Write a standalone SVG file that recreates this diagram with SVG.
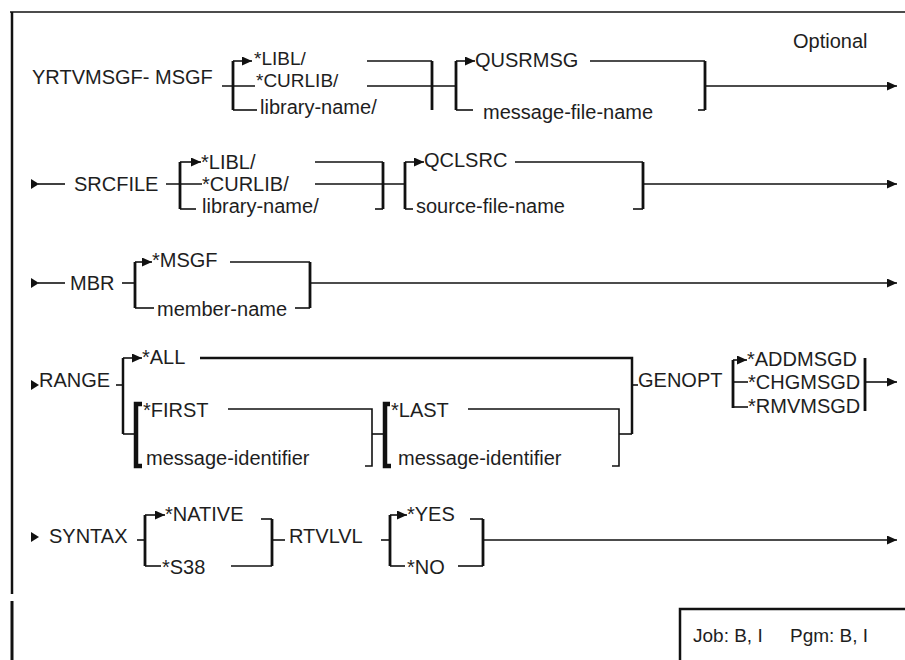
<svg xmlns="http://www.w3.org/2000/svg" xmlns:xlink="http://www.w3.org/1999/xlink" width="905" height="660" viewBox="0 0 905 660">
<style>
.t{font-family:"Liberation Sans",Arial,sans-serif;font-size:20px;fill:#1e1e1e}
.s{font-size:19px}
.ln{stroke:#111;stroke-width:1.6;fill:none}
.th{stroke:#111;stroke-width:2.5;fill:none}
.br{stroke:#111;stroke-width:2.8;fill:none}
.hb{stroke:#111;stroke-width:4.5;fill:none}
.ar{marker-end:url(#ah)}
.fr{stroke:#111;fill:none}
</style>
<defs>
<marker id="ah" markerUnits="userSpaceOnUse" markerWidth="10" markerHeight="9" refX="10" refY="4.5" orient="auto">
<path d="M0,0 L10,4.5 L0,9 z" fill="#111"/>
</marker>
<path id="st" d="M0,-5 L8,0 L0,5 z" fill="#111"/>
</defs>
<rect width="905" height="660" fill="#fff"/>
<g id="frame">
<path class="fr" stroke-width="1.5" d="M10,12 H905"/>
<path class="fr" stroke-width="2.5" d="M12,12 V594"/>
<path class="fr" stroke-width="3" d="M12,601 V660"/>
<path class="fr" stroke-width="2.5" d="M680,660 V609 H905"/>
</g>
<g id="connectors">
<path class="ln" d="M222,86 H255"/>
<path class="br" d="M233,61 V110"/>
<path class="ln ar" d="M233,61 H252"/>
<path class="ln" d="M233,110 H257"/>
<path class="ln" d="M367,61 H432"/>
<path class="ln" d="M367,86 H456"/>
<path class="br" d="M432,61 V110"/>
<path class="br" d="M456,61 V110"/>
<path class="ln ar" d="M456,61 H475"/>
<path class="ln" d="M456,110 H473"/>
<path class="ln" d="M590,61 H705"/>
<path class="br" d="M705,61 V110"/>
<path class="ln" d="M698,110 H705"/>
<path class="ln ar" d="M705,86 H897"/>
<use xlink:href="#st" x="31" y="184"/>
<path class="ln" d="M38,184 H65"/>
<path class="ln" d="M166,184 H202"/>
<path class="br" d="M180,162 V209"/>
<path class="ln ar" d="M180,162 H201"/>
<path class="ln" d="M180,209 H196"/>
<path class="ln" d="M315,162 H383"/>
<path class="ln" d="M315,184 H405"/>
<path class="br" d="M383,162 V209"/>
<path class="ln" d="M375,209 H383"/>
<path class="br" d="M405,162 V209"/>
<path class="ln ar" d="M405,162 H424"/>
<path class="ln" d="M405,209 H413"/>
<path class="ln" d="M515,162 H643"/>
<path class="br" d="M643,162 V209"/>
<path class="ln" d="M633,209 H643"/>
<path class="ln ar" d="M643,184 H897"/>
<use xlink:href="#st" x="31" y="283"/>
<path class="ln" d="M38,283 H65"/>
<path class="ln" d="M122,283 H135"/>
<path class="br" d="M135,262 V308"/>
<path class="ln ar" d="M135,262 H152"/>
<path class="ln" d="M135,308 H154"/>
<path class="ln" d="M230,262 H310"/>
<path class="br" d="M310,262 V308"/>
<path class="ln" d="M295,308 H310"/>
<path class="ln ar" d="M310,283 H897"/>
<use xlink:href="#st" x="31" y="385"/>
<path class="ln" d="M116,385 H123"/>
<path class="th" d="M123,358 V434"/>
<path class="ln ar" d="M123,358 H142"/>
<path class="th" d="M200,358 H632 V434"/>
<path class="ln" d="M123,434 H136"/>
<path class="hb" d="M142,404 H136 V466 H142"/>
<path class="ln" d="M228,409 H372 V466 H365"/>
<path class="ln" d="M372,434 H385"/>
<path class="hb" d="M390,404 H385 V466 H391"/>
<path class="ln" d="M468,409 H619 V466 H612"/>
<path class="ln" d="M619,434 H632"/>
<path class="ln" d="M632,385 H638"/>
<path class="br" d="M733,360 V408"/>
<path class="ln ar" d="M733,360 H747"/>
<path class="ln" d="M733,382 H748"/>
<path class="ln" d="M733,407 H748"/>
<path class="br" d="M865,358 V411"/>
<path class="ln ar" d="M865,382 H897"/>
<use xlink:href="#st" x="31" y="537"/>
<path class="ln" d="M137,540 H145"/>
<path class="br" d="M145,515 V566"/>
<path class="ln ar" d="M145,515 H165"/>
<path class="ln" d="M145,566 H161"/>
<path class="ln" d="M261,519 H272"/>
<path class="br" d="M272,519 V566"/>
<path class="ln" d="M231,566 H272"/>
<path class="ln" d="M272,540 H285"/>
<path class="ln" d="M381,540 H390"/>
<path class="br" d="M390,515 V566"/>
<path class="ln ar" d="M390,515 H407"/>
<path class="ln" d="M390,566 H405"/>
<path class="ln" d="M470,519 H483"/>
<path class="br" d="M483,519 V566"/>
<path class="ln" d="M458,566 H483"/>
<path class="ln ar" d="M483,540 H897"/>
</g>
<g id="n-optional"><text class="t" x="793" y="48">Optional</text></g>
<g id="n-yrtvmsgf"><text class="t" x="32" y="84">YRTVMSGF- MSGF</text></g>
<g id="n-libl1"><text class="t s" x="254" y="65">*LIBL/</text></g>
<g id="n-curlib1"><text class="t s" x="256" y="87">*CURLIB/</text></g>
<g id="n-libname1"><text class="t" x="260" y="114">library-name/</text></g>
<g id="n-qusrmsg"><text class="t" x="475" y="67">QUSRMSG</text></g>
<g id="n-msgfname"><text class="t" x="483" y="119">message-file-name</text></g>
<g id="n-srcfile"><text class="t" x="74" y="191">SRCFILE</text></g>
<g id="n-libl2"><text class="t" x="201" y="169">*LIBL/</text></g>
<g id="n-curlib2"><text class="t" x="202" y="191">*CURLIB/</text></g>
<g id="n-libname2"><text class="t" x="202" y="213">library-name/</text></g>
<g id="n-qclsrc"><text class="t" x="424" y="167">QCLSRC</text></g>
<g id="n-srcfname"><text class="t" x="416" y="213">source-file-name</text></g>
<g id="n-mbr"><text class="t" x="70" y="290">MBR</text></g>
<g id="n-msgf"><text class="t" x="152" y="267">*MSGF</text></g>
<g id="n-member"><text class="t" x="157" y="316">member-name</text></g>
<g id="n-range"><text class="t" x="39" y="387">RANGE</text></g>
<g id="n-all"><text class="t" x="142" y="364">*ALL</text></g>
<g id="n-first"><text class="t" x="143" y="417">*FIRST</text></g>
<g id="n-msgid1"><text class="t" x="146" y="465">message-identifier</text></g>
<g id="n-last"><text class="t" x="391" y="417">*LAST</text></g>
<g id="n-msgid2"><text class="t" x="398" y="465">message-identifier</text></g>
<g id="n-genopt"><text class="t" x="638" y="387">GENOPT</text></g>
<g id="n-addmsgd"><text class="t" x="747" y="366">*ADDMSGD</text></g>
<g id="n-chgmsgd"><text class="t" x="748" y="389">*CHGMSGD</text></g>
<g id="n-rmvmsgd"><text class="t" x="748" y="413">*RMVMSGD</text></g>
<g id="n-syntax"><text class="t" x="49" y="543">SYNTAX</text></g>
<g id="n-native"><text class="t" x="165" y="521">*NATIVE</text></g>
<g id="n-s38"><text class="t" x="162" y="574">*S38</text></g>
<g id="n-rtvlvl"><text class="t" x="289" y="543">RTVLVL</text></g>
<g id="n-yes"><text class="t" x="407" y="521">*YES</text></g>
<g id="n-no"><text class="t" x="407" y="574">*NO</text></g>
<g id="n-job"><text class="t" x="693" y="642" style="font-size:19px">Job: B, I</text><text class="t" x="790" y="642" style="font-size:19px">Pgm: B, I</text></g>
</svg>
